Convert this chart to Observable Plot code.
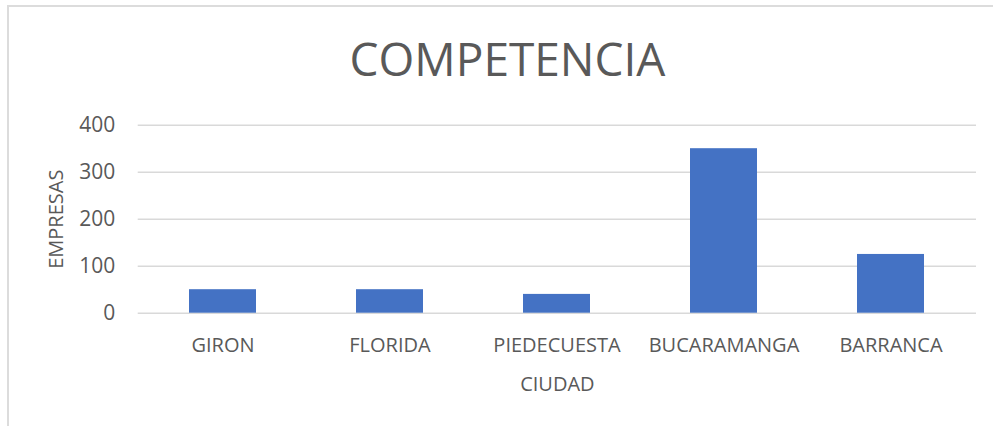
<!DOCTYPE html>
<html>
<head>
<meta charset="utf-8">
<script src="https://cdn.jsdelivr.net/npm/d3@7"></script>
<script src="https://cdn.jsdelivr.net/npm/@observablehq/plot@0.6"></script>
<style>
  html, body { margin: 0; padding: 0; background: #fff; }
  body { width: 993px; height: 426px; overflow: hidden; position: relative; font-family: "Open Sans", sans-serif; }
  #frame { position: absolute; left: 7px; top: 5px; width: 1100px; height: 600px; border: 2px solid #dcdcdc; box-sizing: border-box; }
  #title { position: absolute; left: 22px; width: 971px; top: 35px; line-height: 46px; font-size: 46px; color: #595959; text-align: center; white-space: nowrap; }
  #chart { position: absolute; left: 0; top: 0; }
</style>
</head>
<body>
<div id="frame"></div>
<div id="chart"></div>
<div id="title">COMPETENCIA</div>
<script>
const ciudades = ["GIRON", "FLORIDA", "PIEDECUESTA", "BUCARAMANGA", "BARRANCA"];
const empresas = [50, 50, 40, 350, 125];
const yTicks = [0, 100, 200, 300, 400];
const xTitle = "CIUDAD";
const yTitle = "EMPRESAS";

const data = ciudades.map((c, i) => ({ciudad: c, empresas: empresas[i]}));

const chart = Plot.plot({
  width: 993,
  height: 426,
  marginTop: 124.7,
  marginBottom: 113.3,
  marginLeft: 137.7,
  marginRight: 17,
  style: { fontFamily: "Open Sans, sans-serif", fontSize: "20px", color: "#595959", background: "transparent" },
  x: { type: "band", domain: ciudades, paddingInner: 0.6, paddingOuter: 0.3, label: null },
  y: { domain: [0, 400], ticks: yTicks, label: null },
  marks: [
    Plot.ruleY(yTicks, { stroke: "#d9d9d9", strokeWidth: 1.5 }),
    Plot.barY(data, { x: "ciudad", y: "empresas", fill: "#4472c4" }),
    Plot.axisY(yTicks, { tickSize: 0, tickPadding: 23, fontSize: 21, fill: "#595959", label: null }),
    Plot.axisX({ tickSize: 0, tickPadding: 25, fontSize: 20, fill: "#595959", label: null }),
    Plot.text([xTitle], { frameAnchor: "bottom", dy: 70.9, lineAnchor: "middle", textAnchor: "middle", fontSize: 20, fill: "#595959" }),
    Plot.text([yTitle], { frameAnchor: "left", dx: -81.6, rotate: -90, lineAnchor: "middle", textAnchor: "middle", fontSize: 20, fill: "#595959" })
  ]
});
document.getElementById("chart").appendChild(chart);
</script>
</body>
</html>
